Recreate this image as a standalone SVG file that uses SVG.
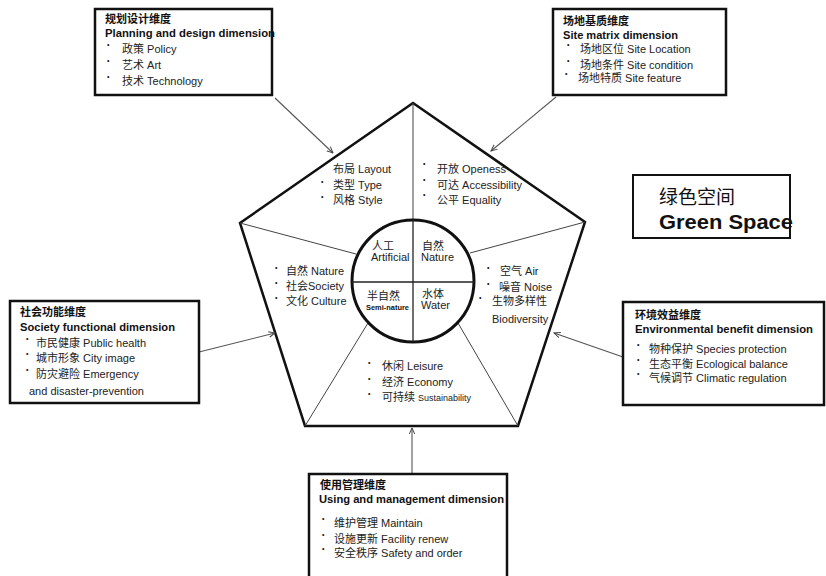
<svg xmlns="http://www.w3.org/2000/svg" width="826" height="576" viewBox="0 0 826 576">
<defs>
<marker id="ah" viewBox="0 0 10 10" refX="9" refY="5" markerWidth="7" markerHeight="7" orient="auto" markerUnits="userSpaceOnUse">
<path d="M0,1 L9,5 L0,9" fill="none" stroke="#444" stroke-width="1.4"/>
</marker>
<style>
text{font-family:"Liberation Sans","Noto Sans CJK SC",sans-serif;fill:#111;}
.t{font-size:11px;font-weight:bold;}
.e{font-size:10.5px;font-weight:bold;}
.i{font-size:11px;fill:#222;}
.b{font-size:7px;}
.box{fill:#fff;stroke:#111;stroke-width:2.5;}
.conn{stroke:#444;stroke-width:1;fill:none;}
.arr{stroke:#555;stroke-width:1.1;fill:none;marker-end:url(#ah);}
</style>
</defs>
<rect width="826" height="576" fill="#fff"/>

<g id="pentagon">
<polygon points="413,103 585,222 518,426 305,426 240,223" fill="#fff" stroke="#111" stroke-width="2.5"/>
</g>

<g id="connectors">
<line class="conn" x1="413" y1="103" x2="413" y2="220"/>
<line class="conn" x1="240" y1="223" x2="356" y2="254"/>
<line class="conn" x1="585" y1="222" x2="470" y2="253"/>
<line class="conn" x1="368" y1="323" x2="305" y2="426"/>
<line class="conn" x1="458" y1="323" x2="518" y2="426"/>
<line class="arr" x1="275" y1="98" x2="333" y2="153"/>
<line class="arr" x1="556" y1="97" x2="491" y2="151"/>
<line class="arr" x1="199" y1="352" x2="275" y2="333"/>
<line class="arr" x1="623" y1="357" x2="554" y2="333"/>
<line class="arr" x1="412" y1="476" x2="412" y2="428"/>
</g>

<g id="core">
<circle cx="413" cy="281" r="61" fill="#fff" stroke="#111" stroke-width="3"/>
<line x1="413" y1="220" x2="413" y2="342" stroke="#222" stroke-width="1.3"/>
<line x1="352" y1="282" x2="474" y2="282" stroke="#222" stroke-width="1.3"/>
<text x="372" y="250" class="i">人工</text>
<text x="371" y="261" class="i">Artificial</text>
<text x="422" y="250" class="i">自然</text>
<text x="421" y="261" class="i">Nature</text>
<text x="367" y="300" class="i">半自然</text>
<text x="366" y="310" style="font-size:8px;font-weight:bold" textLength="43" lengthAdjust="spacingAndGlyphs">Semi-nature</text>
<text x="422" y="298" class="i">水体</text>
<text x="421" y="309" class="i">Water</text>
</g>

<g id="seg-top-left">
<text x="321" y="168" class="b">•</text><text x="333" y="173" class="i">布局 Layout</text>
<text x="321" y="184" class="b">•</text><text x="333" y="189" class="i">类型 Type</text>
<text x="321" y="199" class="b">•</text><text x="333" y="204" class="i">风格 Style</text>
</g>
<g id="seg-top-right">
<text x="423" y="166" class="b">•</text><text x="437" y="173" class="i">开放 Openess</text>
<text x="423" y="182" class="b">•</text><text x="437" y="189" class="i">可达 Accessibility</text>
<text x="423" y="197" class="b">•</text><text x="437" y="204" class="i">公平 Equality</text>
</g>
<g id="seg-left">
<text x="275" y="270" class="b">•</text><text x="286" y="275" class="i">自然 Nature</text>
<text x="275" y="285" class="b">•</text><text x="286" y="290" class="i">社会Society</text>
<text x="275" y="300" class="b">•</text><text x="286" y="305" class="i">文化 Culture</text>
</g>
<g id="seg-right">
<text x="487" y="270" class="b">•</text><text x="500" y="275" class="i">空气 Air</text>
<text x="487" y="286" class="b">•</text><text x="499" y="291" class="i">噪音 Noise</text>
<text x="479" y="300" class="b">•</text><text x="492" y="305" class="i">生物多样性</text>
<text x="492" y="323" class="i">Biodiversity</text>
</g>
<g id="seg-bottom">
<text x="368" y="365" class="b">•</text><text x="382" y="370" class="i">休闲 Leisure</text>
<text x="368" y="381" class="b">•</text><text x="382" y="386" class="i">经济 Economy</text>
<text x="368" y="396" class="b">•</text><text x="382" y="401" class="i">可持续 <tspan style="font-size:9px">Sustainability</tspan></text>
</g>

<g id="planning">
<rect class="box" x="95" y="9" width="177" height="86"/>
<text x="105" y="23" class="t">规划设计维度</text>
<text x="105" y="37" class="e" textLength="170" lengthAdjust="spacingAndGlyphs">Planning and design dimension</text>
<text x="107" y="47" class="b">•</text><text x="122" y="53" class="i">政策 Policy</text>
<text x="107" y="63" class="b">•</text><text x="122" y="69" class="i">艺术 Art</text>
<text x="107" y="79" class="b">•</text><text x="122" y="85" class="i">技术 Technology</text>
</g>

<g id="site">
<rect class="box" x="553" y="9" width="173" height="86"/>
<text x="563" y="25" class="t">场地基质维度</text>
<text x="563" y="39" class="e" textLength="115" lengthAdjust="spacingAndGlyphs">Site matrix dimension</text>
<text x="567" y="47" class="b">•</text><text x="580" y="53" class="i">场地区位 Site Location</text>
<text x="567" y="63" class="b">•</text><text x="580" y="69" class="i">场地条件 Site condition</text>
<text x="565" y="76" class="b">•</text><text x="578" y="82" class="i">场地特质 Site feature</text>
</g>

<g id="society">
<rect class="box" x="10" y="301" width="189" height="102"/>
<text x="20" y="316" class="t">社会功能维度</text>
<text x="20" y="331" class="e" textLength="155" lengthAdjust="spacingAndGlyphs">Society  functional dimension</text>
<text x="26" y="341" class="b">•</text><text x="36" y="347" class="i">市民健康 Public health</text>
<text x="26" y="356" class="b">•</text><text x="36" y="362" class="i">城市形象 City image</text>
<text x="26" y="372" class="b">•</text><text x="36" y="378" class="i">防灾避险 Emergency</text>
<text x="29" y="395" class="i">and disaster-prevention</text>
</g>

<g id="environment">
<rect class="box" x="623" y="302" width="201" height="103"/>
<text x="635" y="319" class="t">环境效益维度</text>
<text x="635" y="333" class="e" textLength="178" lengthAdjust="spacingAndGlyphs">Environmental benefit dimension</text>
<text x="637" y="347" class="b">•</text><text x="649" y="353" class="i">物种保护 Species protection</text>
<text x="637" y="362" class="b">•</text><text x="649" y="368" class="i">生态平衡 Ecological balance</text>
<text x="637" y="376" class="b">•</text><text x="649" y="382" class="i">气候调节 Climatic regulation</text>
</g>

<g id="using">
<rect class="box" x="309" y="474" width="198" height="110"/>
<text x="320" y="489" class="t">使用管理维度</text>
<text x="319" y="503" class="e" textLength="185" lengthAdjust="spacingAndGlyphs">Using and management dimension</text>
<text x="322" y="521" class="b">•</text><text x="334" y="527" class="i">维护管理 Maintain</text>
<text x="322" y="537" class="b">•</text><text x="334" y="543" class="i">设施更新 Facility renew</text>
<text x="322" y="551" class="b">•</text><text x="334" y="557" class="i">安全秩序 Safety and order</text>
</g>

<g id="green-space">
<rect x="633" y="175" width="157" height="63" fill="#fff" stroke="#111" stroke-width="2"/>
<text x="659" y="204" style="font-size:19px">绿色空间</text>
<text x="659" y="229" style="font-size:20px;font-weight:bold" textLength="134" lengthAdjust="spacingAndGlyphs">Green Space</text>
</g>
</svg>
